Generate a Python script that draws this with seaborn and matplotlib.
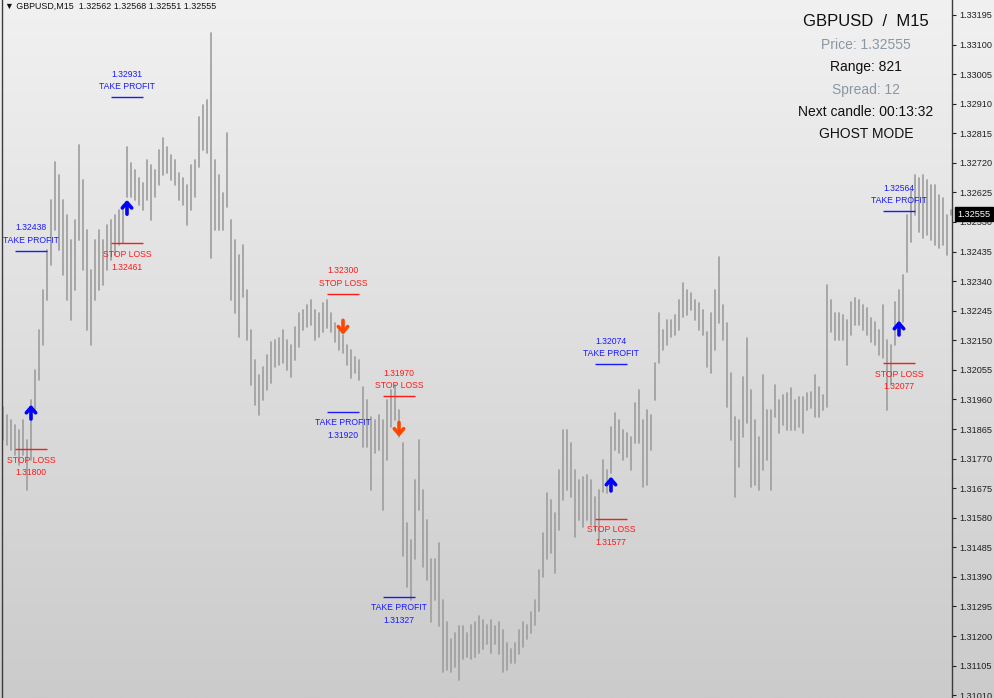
import numpy as np
import pandas as pd
import matplotlib
matplotlib.use("Agg")
import matplotlib.pyplot as plt
import matplotlib.transforms as mtransforms
from matplotlib.colors import LinearSegmentedColormap
import seaborn as sns

# ---- data --------------------------------------------------------------------
symbol = "GBPUSD"
timeframe = "M15"
last_ohlc = [1.32562, 1.32568, 1.32551, 1.32555]

highs = [
    1.31937, 1.31911, 1.31895, 1.31879, 1.31863, 1.31895, 1.31831, 1.31959, 1.32055, 1.32184,
    1.32312, 1.32440, 1.32601, 1.32723, 1.32681, 1.32601, 1.32553, 1.32473, 1.32537, 1.32778,
    1.32665, 1.32505, 1.32376, 1.32473, 1.32505, 1.32473, 1.32521, 1.32537, 1.32553, 1.32569,
    1.32585, 1.32771, 1.32720, 1.32697, 1.32672, 1.32656, 1.32729, 1.32713, 1.32697, 1.32762,
    1.32800, 1.32771, 1.32745, 1.32729, 1.32688, 1.32672, 1.32649, 1.32713, 1.32729, 1.32868,
    1.32906, 1.32922, 1.33137, 1.32729, 1.32681, 1.32624, 1.32816, 1.32537, 1.32473, 1.32424,
    1.32457, 1.32312, 1.32184, 1.32087, 1.32039, 1.32065, 1.32104, 1.32146, 1.32152, 1.32158,
    1.32184, 1.32152, 1.32136, 1.32194, 1.32238, 1.32248, 1.32264, 1.32280, 1.32248, 1.32238,
    1.32271, 1.32280, 1.32238, 1.32207, 1.32184, 1.32168, 1.32136, 1.32120, 1.32097, 1.32087,
    1.32001, 1.31959, 1.31905, 1.31895, 1.31911, 1.31895, 1.31959, 1.31991, 1.32007, 1.31927,
    1.31821, 1.31564, 1.31510, 1.31702, 1.31831, 1.31670, 1.31574, 1.31446, 1.31446, 1.31500,
    1.31317, 1.31244, 1.31189, 1.31211, 1.31231, 1.31231, 1.31211, 1.31237, 1.31244, 1.31263,
    1.31253, 1.31237, 1.31253, 1.31231, 1.31244, 1.31221, 1.31179, 1.31157, 1.31179, 1.31221,
    1.31244, 1.31237, 1.31276, 1.31317, 1.31413, 1.31532, 1.31660, 1.31638, 1.31596, 1.31734,
    1.31863, 1.31863, 1.31821, 1.31734, 1.31702, 1.31712, 1.31718, 1.31702, 1.31648, 1.31670,
    1.31767, 1.31734, 1.31872, 1.31917, 1.31895, 1.31863, 1.31853, 1.31840, 1.31949, 1.31991,
    1.31895, 1.31927, 1.31911, 1.32078, 1.32238, 1.32184, 1.32216, 1.32216, 1.32232, 1.32280,
    1.32334, 1.32312, 1.32303, 1.32280, 1.32271, 1.32248, 1.32175, 1.32238, 1.32312, 1.32418,
    1.32264, 1.32207, 1.32046, 1.31905, 1.31895, 1.32033, 1.32158, 1.31991, 1.31895, 1.31840,
    1.32039, 1.31927, 1.31927, 1.32007, 1.31959, 1.31975, 1.31981, 1.31997, 1.31959, 1.31968,
    1.31968, 1.31981, 1.31985, 1.32039, 1.32001, 1.31975, 1.32328, 1.32280, 1.32238, 1.32238,
    1.32232, 1.32216, 1.32274, 1.32287, 1.32280, 1.32264, 1.32255, 1.32223, 1.32210, 1.32184,
    1.32264, 1.32152, 1.32136, 1.32274, 1.32312, 1.32360, 1.32553, 1.32633, 1.32681, 1.32672,
    1.32681, 1.32665, 1.32649, 1.32649, 1.32617, 1.32608, 1.32553, 1.32568,
]
lows = [
    1.31831, 1.31815, 1.31799, 1.31783, 1.31751, 1.31783, 1.31670, 1.31767, 1.31927, 1.32023,
    1.32136, 1.32280, 1.32392, 1.32505, 1.32440, 1.32360, 1.32280, 1.32216, 1.32312, 1.32473,
    1.32376, 1.32184, 1.32136, 1.32280, 1.32312, 1.32328, 1.32376, 1.32408, 1.32424, 1.32457,
    1.32463, 1.32611, 1.32611, 1.32601, 1.32585, 1.32569, 1.32601, 1.32537, 1.32611, 1.32649,
    1.32681, 1.32688, 1.32665, 1.32649, 1.32601, 1.32585, 1.32521, 1.32569, 1.32611, 1.32707,
    1.32762, 1.32752, 1.32415, 1.32505, 1.32505, 1.32505, 1.32579, 1.32280, 1.32238, 1.32162,
    1.32290, 1.32152, 1.32007, 1.31943, 1.31911, 1.31959, 1.31991, 1.32013, 1.32065, 1.32071,
    1.32078, 1.32055, 1.32033, 1.32087, 1.32130, 1.32184, 1.32194, 1.32200, 1.32152, 1.32162,
    1.32175, 1.32191, 1.32178, 1.32146, 1.32120, 1.32110, 1.32071, 1.32030, 1.32046, 1.32023,
    1.31808, 1.31808, 1.31670, 1.31789, 1.31799, 1.31606, 1.31767, 1.31872, 1.31895, 1.31840,
    1.31456, 1.31359, 1.31317, 1.31446, 1.31606, 1.31423, 1.31381, 1.31244, 1.31317, 1.31231,
    1.31083, 1.31092, 1.31083, 1.31102, 1.31060, 1.31125, 1.31134, 1.31125, 1.31134, 1.31147,
    1.31157, 1.31173, 1.31147, 1.31173, 1.31141, 1.31086, 1.31092, 1.31115, 1.31115, 1.31141,
    1.31166, 1.31189, 1.31211, 1.31237, 1.31279, 1.31391, 1.31446, 1.31468, 1.31404, 1.31542,
    1.31638, 1.31670, 1.31648, 1.31519, 1.31574, 1.31551, 1.31574, 1.31558, 1.31542, 1.31510,
    1.31664, 1.31660, 1.31725, 1.31799, 1.31789, 1.31767, 1.31776, 1.31734, 1.31821, 1.31821,
    1.31680, 1.31686, 1.31799, 1.31959, 1.32078, 1.32120, 1.32136, 1.32162, 1.32168, 1.32184,
    1.32226, 1.32232, 1.32248, 1.32216, 1.32184, 1.32168, 1.32065, 1.32046, 1.32120, 1.32207,
    1.32152, 1.31937, 1.31831, 1.31648, 1.31744, 1.31840, 1.31885, 1.31680, 1.31686, 1.31670,
    1.31734, 1.31767, 1.31670, 1.31905, 1.31853, 1.31879, 1.31863, 1.31863, 1.31863, 1.31872,
    1.31853, 1.31927, 1.31933, 1.31905, 1.31905, 1.31927, 1.31937, 1.32175, 1.32152, 1.32152,
    1.32152, 1.32071, 1.32168, 1.32200, 1.32200, 1.32184, 1.32168, 1.32146, 1.32136, 1.32104,
    1.32094, 1.31927, 1.32007, 1.32136, 1.32168, 1.32210, 1.32370, 1.32466, 1.32553, 1.32498,
    1.32479, 1.32489, 1.32473, 1.32457, 1.32447, 1.32457, 1.32424, 1.32551,
]

# signals: bar index and arrow price
buy_bars = [7, 31, 152, 224]
buy_prices = [1.31920, 1.32578, 1.31689, 1.32190]
sell_bars = [85, 99]
sell_prices = [1.32191, 1.31863]

# take profit / stop loss levels drawn next to each signal
level_bars = [7, 7, 31, 31, 85, 85, 99, 99, 152, 152, 224, 224]
level_kinds = ["TAKE PROFIT", "STOP LOSS", "TAKE PROFIT", "STOP LOSS",
               "STOP LOSS", "TAKE PROFIT", "STOP LOSS", "TAKE PROFIT",
               "TAKE PROFIT", "STOP LOSS", "TAKE PROFIT", "STOP LOSS"]
level_prices = [1.32438, 1.31800, 1.32931, 1.32461, 1.32300, 1.31920,
                1.31970, 1.31327, 1.32074, 1.31577, 1.32564, 1.32077]

info_lines = ["Price: 1.32555", "Range: 821", "Spread: 12",
              "Next candle: 00:13:32", "GHOST MODE"]

axis_top = 1.33195
axis_step = 0.00095

# ---- figure ------------------------------------------------------------------
sns.set_theme(style="white")
plt.rcParams["font.family"] = ["Liberation Sans", "DejaVu Sans"]

W, H = 994, 698
fig = plt.figure(figsize=(W / 100, H / 100), dpi=100)

# background gradient behind everything
bg = fig.add_axes([0, 0, 1, 1], zorder=0)
grad_cmap = LinearSegmentedColormap.from_list("bg", ["#cbcbcb", "#f1f1f1"])
bg.imshow(np.linspace(0, 1, 256).reshape(-1, 1), aspect="auto", cmap=grad_cmap,
          origin="lower", extent=[0, 1, 0, 1])
bg.axis("off")

ax = fig.add_axes([2 / W, 0, 950 / W, 1], zorder=1)
ax.patch.set_alpha(0)

n = len(highs)
bars = pd.DataFrame({
    "bar": np.repeat(np.arange(n), 2),
    "price": np.column_stack([lows, highs]).ravel(),
})
sns.lineplot(data=bars, x="bar", y="price", units="bar", estimator=None,
             color="#a0a0a0", linewidth=1.25, legend=False, ax=ax)

ax.set_xlim(-0.25, n - 0.75)
ax.set_ylim(1.31001, 1.33243)

# arrows
arrow_len = 0.00046
arrow_style = "->,head_length=0.32,head_width=0.28"
for b, p in zip(buy_bars, buy_prices):
    ax.annotate("", xy=(b, p + arrow_len / 2), xytext=(b, p - arrow_len / 2),
                arrowprops=dict(arrowstyle=arrow_style, color="#0000ff", lw=2.6,
                                shrinkA=0, shrinkB=0))
for b, p in zip(sell_bars, sell_prices):
    ax.annotate("", xy=(b, p - arrow_len / 2), xytext=(b, p + arrow_len / 2),
                arrowprops=dict(arrowstyle=arrow_style, color="#ff4500", lw=2.6,
                                shrinkA=0, shrinkB=0))

# TP / SL markers
for k in range(0, len(level_prices), 2):
    pair = level_prices[k:k + 2]
    for j in range(2):
        b = level_bars[k + j]
        p = level_prices[k + j]
        kind = level_kinds[k + j]
        col = "#1a1aff" if kind == "TAKE PROFIT" else "#ff1a1a"
        ax.hlines(p, b - 4, b + 4, color=col, lw=1)
        above = p > min(pair)
        price_txt = f"{p:.5f}"
        if above:
            rows = [(kind, 7.5), (price_txt, 16.5)]
        else:
            rows = [(kind, -8), (price_txt, -17)]
        for txt, dy in rows:
            ax.annotate(txt, xy=(b, p), xytext=(0, dy), textcoords="offset points",
                        ha="center", va="center", fontsize=6.2, color=col)

# right price scale
ticks = np.round(axis_top - axis_step * np.arange(24), 5)
ax.set_yticks(ticks)
ax.set_yticklabels([f"{t:.5f}" for t in ticks])
ax.yaxis.tick_right()
ax.tick_params(axis="y", direction="out", length=3, width=0.8, pad=2.5,
               labelsize=6.6, colors="#202020")
ax.set_xticks([])
ax.set_xlabel("")
ax.set_ylabel("")
for side in ["top", "bottom"]:
    ax.spines[side].set_visible(False)
for side in ["left", "right"]:
    ax.spines[side].set_color("#3c3c3c")
    ax.spines[side].set_linewidth(1)

# current price tag
tag_tr = mtransforms.blended_transform_factory(ax.transAxes, ax.transData)
ax.annotate(f"{last_ohlc[3]:.5f}", xy=(1, last_ohlc[3]), xycoords=tag_tr,
            xytext=(4, 0), textcoords="offset points", ha="left", va="center",
            fontsize=6.6, color="white",
            bbox=dict(boxstyle="square,pad=0.25", fc="black", ec="black"))

# header top-left
head = f"\u25bc {symbol},{timeframe}  " + " ".join(f"{v:.5f}" for v in last_ohlc)
fig.text(5 / W, 1 - 6 / H, head, ha="left", va="center", fontsize=6.4,
         color="#101010")

# info panel top-right
cx = 866 / W
fig.text(cx, 1 - 22 / H, f"{symbol}  /  {timeframe}", ha="center", va="center",
         fontsize=12, color="#101010")
info_y = [45, 67, 90, 112, 134]
info_cols = ["#8a97a3", "#101010", "#8a97a3", "#101010", "#101010"]
for txt, yy, c in zip(info_lines, info_y, info_cols):
    fig.text(cx, 1 - yy / H, txt, ha="center", va="center", fontsize=10, color=c)

fig.savefig("out.png", dpi=100)
